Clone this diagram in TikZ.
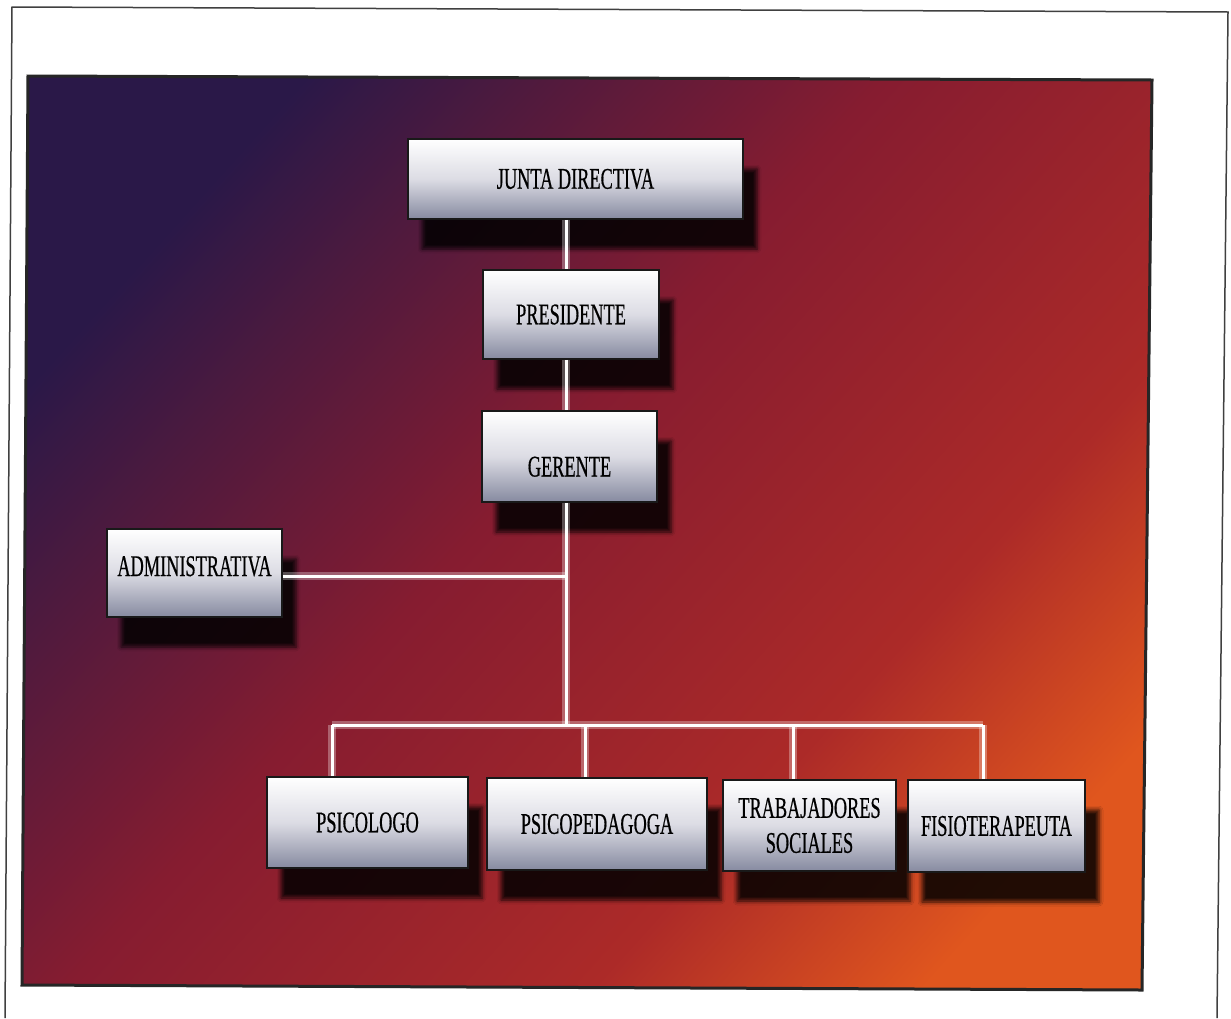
\documentclass[tikz,border=0pt]{standalone}
\usepackage{fontspec}
\newfontfamily\boxfont[FakeStretch=0.61,FakeBold=0.5]{Liberation Serif}
\usepackage{tikz}
\usetikzlibrary{shadows.blur}

\definecolor{panelA}{HTML}{2A1848}
\definecolor{panelB}{HTML}{4E1A3E}
\definecolor{panelC}{HTML}{861C30}
\definecolor{panelD}{HTML}{AC2A28}
\definecolor{panelE}{HTML}{E0561E}
\definecolor{boxmid}{HTML}{DCDCE4}
\definecolor{boxgray}{HTML}{868AA0}

\pgfdeclarehorizontalshading{panelshade}{100bp}{color(0bp)=(panelA); color(25bp)=(panelA);
    color(33bp)=(panelB); color(46bp)=(panelC); color(65bp)=(panelD);
    color(77bp)=(panelE); color(100bp)=(panelE)}

\begin{document}
\begin{tikzpicture}[x=1pt,y=-1pt,
        box/.style={draw=black!90, line width=1.8pt, inner sep=0pt,
                top color=white, bottom color=boxgray, middle color=boxmid,
                font=\boxfont\fontsize{30}{35}\selectfont, text=black, align=center,
                blur shadow={shadow xshift=14pt, shadow yshift=-30pt,
                        shadow blur radius=4pt, shadow opacity=85}},
        conn/.style={draw=white, line width=3pt,
                preaction={draw=white, draw opacity=0.3, line width=8pt}}]
    \useasboundingbox (0,0) rectangle (1231,1018);
    \fill[white] (0,0) rectangle (1231,1018);
    \draw[line width=1.5pt, black!75] (5,1018) -- (12,7) -- (1228,12) -- (1217,1018);
    % background panel
    \shade[shading=panelshade, shading angle=-42] (28,76) -- (1152,80) -- (1142,990) -- (22,985) -- cycle;
    \draw[line width=3pt, black!85] (28,76) -- (1152,80) -- (1142,990) -- (22,985) -- cycle;

    \node[box, minimum width=335pt, minimum height=80pt] (junta) at (575.5,179) {JUNTA DIRECTIVA};
    \node[box, minimum width=176pt, minimum height=89pt] (pres) at (571,314.5) {PRESIDENTE};
    \node[box, minimum width=175pt, minimum height=91pt, text height=40pt, text depth=0pt] (ger) at (569.5,456.5) {GERENTE};
    \node[box, minimum width=175pt, minimum height=88pt, text height=20pt, text depth=14pt] (admin) at (194.5,573) {ADMINISTRATIVA};
    \node[box, minimum width=201pt, minimum height=91pt] (psic) at (367.5,822.5) {PSICOLOGO};
    \node[box, minimum width=220pt, minimum height=92pt] (psped) at (597,824) {PSICOPEDAGOGA};
    \node[box, minimum width=173pt, minimum height=91pt] (trab) at (809.5,825.5) {TRABAJADORES\\SOCIALES};
    \node[box, minimum width=177pt, minimum height=92pt] (fisio) at (996.5,826) {FISIOTERAPEUTA};

    \coordinate (adm) at (566,576);
    \coordinate (bus) at (566,725);
    \coordinate (d1) at (332,725);
    \coordinate (d2) at (585,725);
    \coordinate (d3) at (793,725);
    \coordinate (d4) at (983,725);

    \draw[conn] (junta.south -| bus) -- (pres.north -| bus);
    \draw[conn] (pres.south -| bus) -- (ger.north -| bus);
    \draw[conn] (ger.south -| bus) -- (bus);
    \draw[conn] (admin.east |- adm) -- (adm);
    \draw[conn] (d1) -- (d4);
    \foreach \d/\n in {d1/psic,d2/psped,d3/trab,d4/fisio}
        \draw[conn] (\d) -- (\d |- \n.north);
\end{tikzpicture}
\end{document}
